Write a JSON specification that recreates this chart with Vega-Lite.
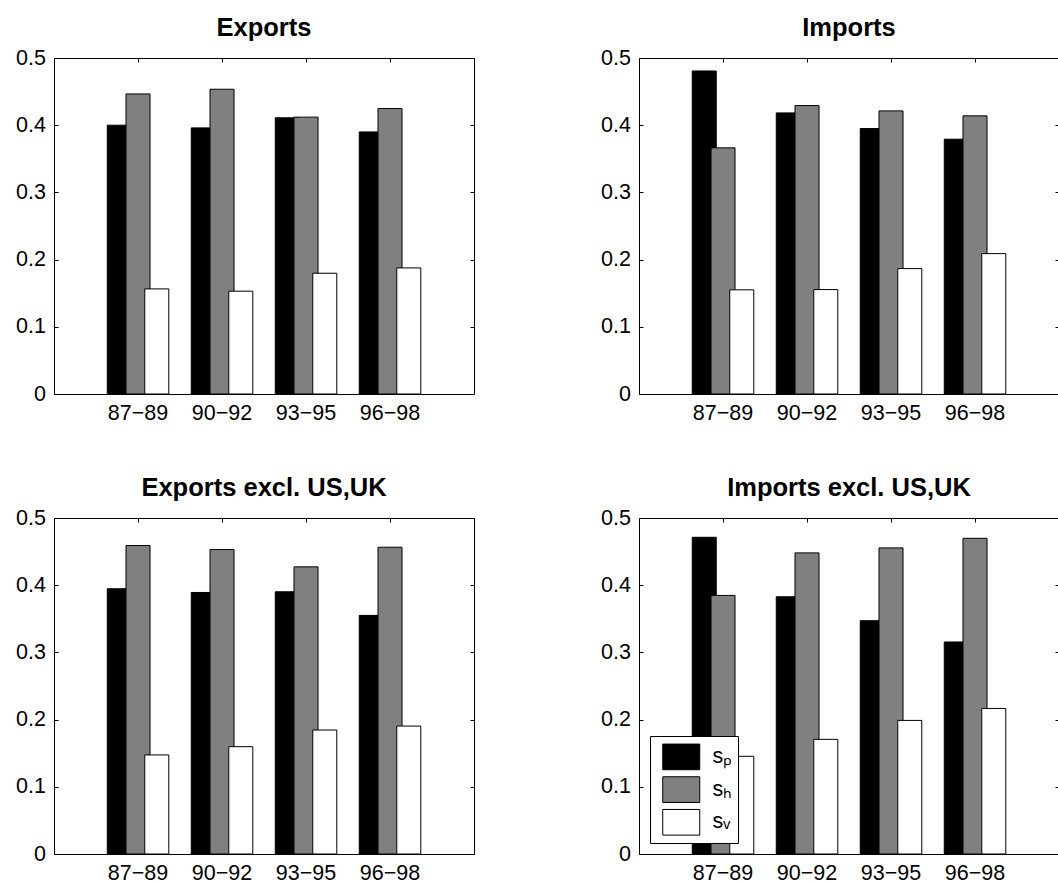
{
  "$schema": "https://vega.github.io/schema/vega-lite/v6.json",
  "padding": {"left": 15, "top": 15, "right": 0, "bottom": 5},
  "background": "white",
  "data": {"values": [
    {"panel": "Exports", "period": "87−89", "series": "s_P", "value": 0.400},
    {"panel": "Exports", "period": "87−89", "series": "s_H", "value": 0.4465},
    {"panel": "Exports", "period": "87−89", "series": "s_V", "value": 0.1564},
    {"panel": "Exports", "period": "90−92", "series": "s_P", "value": 0.396},
    {"panel": "Exports", "period": "90−92", "series": "s_H", "value": 0.4535},
    {"panel": "Exports", "period": "90−92", "series": "s_V", "value": 0.153},
    {"panel": "Exports", "period": "93−95", "series": "s_P", "value": 0.411},
    {"panel": "Exports", "period": "93−95", "series": "s_H", "value": 0.412},
    {"panel": "Exports", "period": "93−95", "series": "s_V", "value": 0.1797},
    {"panel": "Exports", "period": "96−98", "series": "s_P", "value": 0.390},
    {"panel": "Exports", "period": "96−98", "series": "s_H", "value": 0.4248},
    {"panel": "Exports", "period": "96−98", "series": "s_V", "value": 0.1876},
    {"panel": "Imports", "period": "87−89", "series": "s_P", "value": 0.4807},
    {"panel": "Imports", "period": "87−89", "series": "s_H", "value": 0.3663},
    {"panel": "Imports", "period": "87−89", "series": "s_V", "value": 0.155},
    {"panel": "Imports", "period": "90−92", "series": "s_P", "value": 0.4183},
    {"panel": "Imports", "period": "90−92", "series": "s_H", "value": 0.4292},
    {"panel": "Imports", "period": "90−92", "series": "s_V", "value": 0.1554},
    {"panel": "Imports", "period": "93−95", "series": "s_P", "value": 0.395},
    {"panel": "Imports", "period": "93−95", "series": "s_H", "value": 0.4213},
    {"panel": "Imports", "period": "93−95", "series": "s_V", "value": 0.1866},
    {"panel": "Imports", "period": "96−98", "series": "s_P", "value": 0.3792},
    {"panel": "Imports", "period": "96−98", "series": "s_H", "value": 0.4139},
    {"panel": "Imports", "period": "96−98", "series": "s_V", "value": 0.2089},
    {"panel": "Exports excl. US,UK", "period": "87−89", "series": "s_P", "value": 0.3947},
    {"panel": "Exports excl. US,UK", "period": "87−89", "series": "s_H", "value": 0.459},
    {"panel": "Exports excl. US,UK", "period": "87−89", "series": "s_V", "value": 0.1474},
    {"panel": "Exports excl. US,UK", "period": "90−92", "series": "s_P", "value": 0.3892},
    {"panel": "Exports excl. US,UK", "period": "90−92", "series": "s_H", "value": 0.453},
    {"panel": "Exports excl. US,UK", "period": "90−92", "series": "s_V", "value": 0.1597},
    {"panel": "Exports excl. US,UK", "period": "93−95", "series": "s_P", "value": 0.3902},
    {"panel": "Exports excl. US,UK", "period": "93−95", "series": "s_H", "value": 0.4273},
    {"panel": "Exports excl. US,UK", "period": "93−95", "series": "s_V", "value": 0.1845},
    {"panel": "Exports excl. US,UK", "period": "96−98", "series": "s_P", "value": 0.3551},
    {"panel": "Exports excl. US,UK", "period": "96−98", "series": "s_H", "value": 0.4565},
    {"panel": "Exports excl. US,UK", "period": "96−98", "series": "s_V", "value": 0.1904},
    {"panel": "Imports excl. US,UK", "period": "87−89", "series": "s_P", "value": 0.4713},
    {"panel": "Imports excl. US,UK", "period": "87−89", "series": "s_H", "value": 0.3848},
    {"panel": "Imports excl. US,UK", "period": "87−89", "series": "s_V", "value": 0.1454},
    {"panel": "Imports excl. US,UK", "period": "90−92", "series": "s_P", "value": 0.3828},
    {"panel": "Imports excl. US,UK", "period": "90−92", "series": "s_H", "value": 0.4481},
    {"panel": "Imports excl. US,UK", "period": "90−92", "series": "s_V", "value": 0.1706},
    {"panel": "Imports excl. US,UK", "period": "93−95", "series": "s_P", "value": 0.3472},
    {"panel": "Imports excl. US,UK", "period": "93−95", "series": "s_H", "value": 0.4555},
    {"panel": "Imports excl. US,UK", "period": "93−95", "series": "s_V", "value": 0.1988},
    {"panel": "Imports excl. US,UK", "period": "96−98", "series": "s_P", "value": 0.3155},
    {"panel": "Imports excl. US,UK", "period": "96−98", "series": "s_H", "value": 0.4698},
    {"panel": "Imports excl. US,UK", "period": "96−98", "series": "s_V", "value": 0.2166}
  ]},
  "columns": 2,
  "spacing": {"column": 125, "row": 51},
  "resolve": {"legend": {"color": "independent"}},
  "concat": [
    {
      "title": "Exports",
      "width": 420, "height": 336,
      "transform": [{"filter": "datum.panel === 'Exports'"}],
      "layer": [
        {
          "mark": {"type": "bar", "stroke": "#000000", "strokeWidth": 1, "width": {"band": 1.28}},
          "encoding": {
            "x": {"field": "period", "type": "nominal", "sort": null, "title": null, "scale": {"paddingInner": 0.33, "paddingOuter": 0.665}, "axis": {"orient": "bottom", "labelAngle": 0, "bandPosition": 0.5}},
            "xOffset": {"field": "series", "type": "nominal", "sort": ["s_P", "s_H", "s_V"], "scale": {"paddingInner": 0, "paddingOuter": 0, "range": [5.27, 61.55]}},
            "y": {"field": "value", "type": "quantitative", "title": null, "scale": {"domain": [0, 0.5], "nice": false}, "axis": {"orient": "left", "values": [0, 0.1, 0.2, 0.3, 0.4, 0.5], "format": ".1~f"}},
            "color": {"field": "series", "type": "nominal", "scale": {"domain": ["s_P", "s_H", "s_V"], "range": ["#000000", "#808080", "#ffffff"]}, "legend": null}
          }
        },
        {
          "mark": {"type": "bar", "opacity": 0},
          "encoding": {
            "x": {"field": "period", "type": "nominal", "sort": null, "title": null, "axis": {"orient": "top", "labels": false, "bandPosition": 0.5}},
            "y": {"field": "value", "type": "quantitative", "title": null, "stack": null, "axis": {"orient": "right", "labels": false, "values": [0, 0.1, 0.2, 0.3, 0.4, 0.5]}}
          }
        }
      ],
      "resolve": {"axis": {"x": "independent", "y": "independent"}}
    },
    {
      "title": "Imports",
      "width": 420, "height": 336,
      "transform": [{"filter": "datum.panel === 'Imports'"}],
      "layer": [
        {
          "mark": {"type": "bar", "stroke": "#000000", "strokeWidth": 1, "width": {"band": 1.28}},
          "encoding": {
            "x": {"field": "period", "type": "nominal", "sort": null, "title": null, "scale": {"paddingInner": 0.33, "paddingOuter": 0.665}, "axis": {"orient": "bottom", "labelAngle": 0, "bandPosition": 0.5}},
            "xOffset": {"field": "series", "type": "nominal", "sort": ["s_P", "s_H", "s_V"], "scale": {"paddingInner": 0, "paddingOuter": 0, "range": [5.27, 61.55]}},
            "y": {"field": "value", "type": "quantitative", "title": null, "scale": {"domain": [0, 0.5], "nice": false}, "axis": {"orient": "left", "values": [0, 0.1, 0.2, 0.3, 0.4, 0.5], "format": ".1~f"}},
            "color": {"field": "series", "type": "nominal", "scale": {"domain": ["s_P", "s_H", "s_V"], "range": ["#000000", "#808080", "#ffffff"]}, "legend": null}
          }
        },
        {
          "mark": {"type": "bar", "opacity": 0},
          "encoding": {
            "x": {"field": "period", "type": "nominal", "sort": null, "title": null, "axis": {"orient": "top", "labels": false, "bandPosition": 0.5}},
            "y": {"field": "value", "type": "quantitative", "title": null, "stack": null, "axis": {"orient": "right", "labels": false, "values": [0, 0.1, 0.2, 0.3, 0.4, 0.5]}}
          }
        }
      ],
      "resolve": {"axis": {"x": "independent", "y": "independent"}}
    },
    {
      "title": "Exports excl. US,UK",
      "width": 420, "height": 336,
      "transform": [{"filter": "datum.panel === 'Exports excl. US,UK'"}],
      "layer": [
        {
          "mark": {"type": "bar", "stroke": "#000000", "strokeWidth": 1, "width": {"band": 1.28}},
          "encoding": {
            "x": {"field": "period", "type": "nominal", "sort": null, "title": null, "scale": {"paddingInner": 0.33, "paddingOuter": 0.665}, "axis": {"orient": "bottom", "labelAngle": 0, "bandPosition": 0.5}},
            "xOffset": {"field": "series", "type": "nominal", "sort": ["s_P", "s_H", "s_V"], "scale": {"paddingInner": 0, "paddingOuter": 0, "range": [5.27, 61.55]}},
            "y": {"field": "value", "type": "quantitative", "title": null, "scale": {"domain": [0, 0.5], "nice": false}, "axis": {"orient": "left", "values": [0, 0.1, 0.2, 0.3, 0.4, 0.5], "format": ".1~f"}},
            "color": {"field": "series", "type": "nominal", "scale": {"domain": ["s_P", "s_H", "s_V"], "range": ["#000000", "#808080", "#ffffff"]}, "legend": null}
          }
        },
        {
          "mark": {"type": "bar", "opacity": 0},
          "encoding": {
            "x": {"field": "period", "type": "nominal", "sort": null, "title": null, "axis": {"orient": "top", "labels": false, "bandPosition": 0.5}},
            "y": {"field": "value", "type": "quantitative", "title": null, "stack": null, "axis": {"orient": "right", "labels": false, "values": [0, 0.1, 0.2, 0.3, 0.4, 0.5]}}
          }
        }
      ],
      "resolve": {"axis": {"x": "independent", "y": "independent"}}
    },
    {
      "title": "Imports excl. US,UK",
      "width": 420, "height": 336,
      "transform": [{"filter": "datum.panel === 'Imports excl. US,UK'"}],
      "layer": [
        {
          "mark": {"type": "bar", "stroke": "#000000", "strokeWidth": 1, "width": {"band": 1.28}},
          "encoding": {
            "x": {"field": "period", "type": "nominal", "sort": null, "title": null, "scale": {"paddingInner": 0.33, "paddingOuter": 0.665}, "axis": {"orient": "bottom", "labelAngle": 0, "bandPosition": 0.5}},
            "xOffset": {"field": "series", "type": "nominal", "sort": ["s_P", "s_H", "s_V"], "scale": {"paddingInner": 0, "paddingOuter": 0, "range": [5.27, 61.55]}},
            "y": {"field": "value", "type": "quantitative", "title": null, "scale": {"domain": [0, 0.5], "nice": false}, "axis": {"orient": "left", "values": [0, 0.1, 0.2, 0.3, 0.4, 0.5], "format": ".1~f"}},
            "color": {"field": "series", "type": "nominal", "scale": {"domain": ["s_P", "s_H", "s_V"], "range": ["#000000", "#808080", "#ffffff"]},
              "legend": {"orient": "bottom-left", "offset": 11, "title": null,
                "symbolType": "M-0.54,-0.85H1.91V0.85H-0.54Z", "symbolSize": 912,
                "symbolStrokeColor": "#000000", "symbolStrokeWidth": 1, "symbolOpacity": 1,
                "labelFont": "Liberation Sans", "labelFontSize": 21.5, "labelColor": "#000000", "labelOffset": 25.7,
                "rowPadding": 1.7, "padding": 4.9, "strokeColor": "#000000", "fillColor": "#ffffff",
                "labelExpr": "datum.label === 's_P' ? 'sₚ\u00a0\u00a0' : datum.label === 's_H' ? 'sₕ\u00a0\u00a0' : 'sᵥ\u00a0\u00a0'"}}
          }
        },
        {
          "mark": {"type": "bar", "opacity": 0},
          "encoding": {
            "x": {"field": "period", "type": "nominal", "sort": null, "title": null, "axis": {"orient": "top", "labels": false, "bandPosition": 0.5}},
            "y": {"field": "value", "type": "quantitative", "title": null, "stack": null, "axis": {"orient": "right", "labels": false, "values": [0, 0.1, 0.2, 0.3, 0.4, 0.5]}}
          }
        }
      ],
      "resolve": {"axis": {"x": "independent", "y": "independent"}}
    }
  ],
  "config": {
    "view": {"stroke": "#000000", "strokeWidth": 1},
    "axis": {"domain": false, "grid": false, "ticks": true, "tickSize": -4, "tickColor": "#000000", "tickWidth": 1,
      "labelFont": "Liberation Sans", "labelFontSize": 21.5, "labelColor": "#000000"},
    "axisX": {"labelPadding": 12},
    "axisY": {"labelPadding": 12.5},
    "title": {"font": "Liberation Sans", "fontSize": 25.5, "fontWeight": "bold", "color": "#000000", "offset": 6, "baseline": "alphabetic", "frame": "group", "anchor": "middle"}
  }
}
